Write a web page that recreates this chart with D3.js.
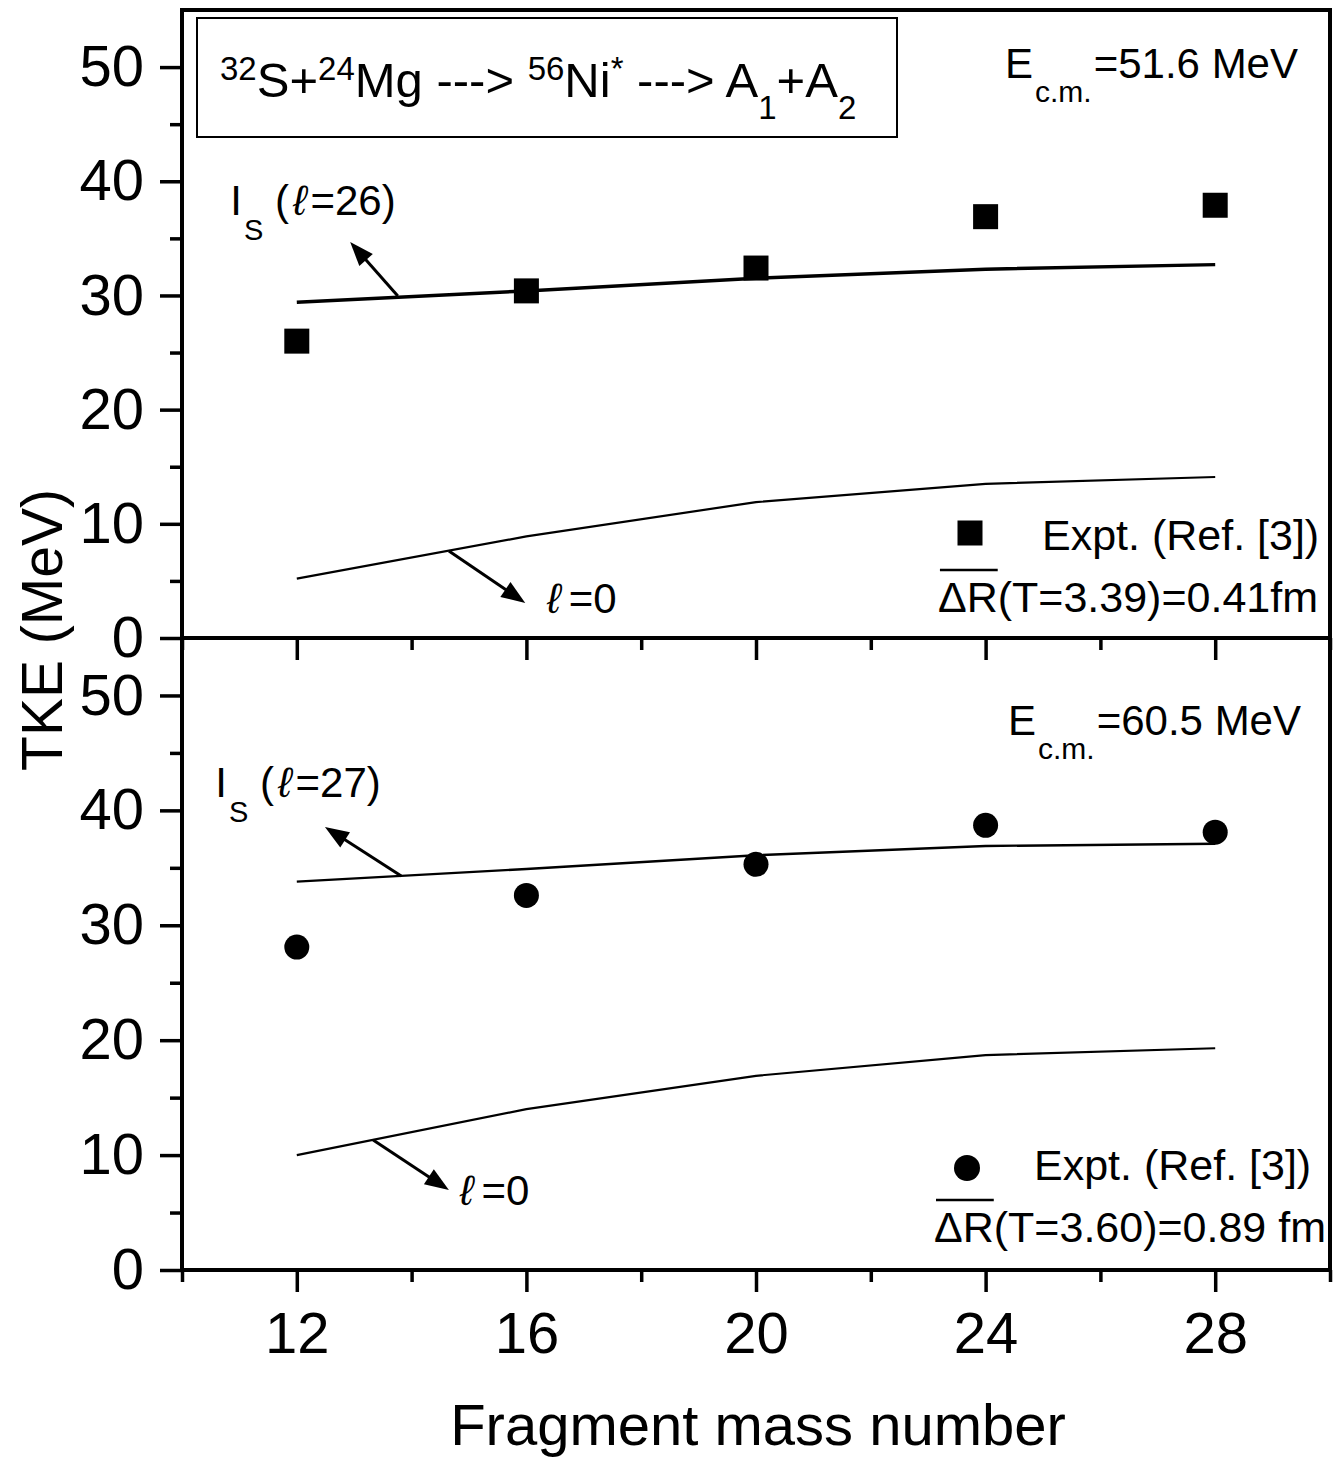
<!DOCTYPE html>
<html><head><meta charset="utf-8">
<script src="https://cdn.jsdelivr.net/npm/d3@7"></script>
<style>
body{margin:0;background:#fff}
text{font-family:"Liberation Sans",Arial,Helvetica,sans-serif;fill:#000}
</style>
</head><body>
<svg id="c" width="1336" height="1458"></svg>
<script>
// ---------------- data ----------------
const fragmentMass = [12, 16, 20, 24, 28];
const exptTop     = [26.0, 30.4, 32.4, 36.9, 37.9];   // Ecm = 51.6 MeV
const isTop       = [29.4, 30.4, 31.5, 32.3, 32.7];   // I_S (l=26)
const l0Top       = [5.2, 8.9, 11.9, 13.5, 14.1];     // l = 0
const exptBottom  = [28.1, 32.6, 35.3, 38.7, 38.1];   // Ecm = 60.5 MeV
const isBottom    = [33.8, 34.9, 36.1, 36.9, 37.1];   // I_S (l=27)
const l0Bottom    = [10.0, 14.0, 16.9, 18.7, 19.3];   // l = 0
const yTickLabels = [0, 10, 20, 30, 40, 50];
const yMinorTicks = [5, 15, 25, 35, 45];
const xTickLabels = [12, 16, 20, 24, 28];
const xMinorTicks = [10, 14, 18, 22, 26, 30];

// ---------------- layout ----------------
const L = 182, R = 1330, T = 10, M = 638, B = 1270;
const svg = d3.select("#c");
const x = d3.scaleLinear().domain([10, 30]).range([L, R]);
const yTop = d3.scaleLinear().domain([0, 55]).range([M, T]);
const yBot = d3.scaleLinear().domain([0, 55]).range([B, M]);

function styleAxis(g, w) {
  g.select(".domain").remove();
  g.selectAll(".tick line").attr("stroke", "#000").attr("stroke-width", w);
  g.selectAll(".tick text").attr("font-size", 58).attr("fill", "#000")
    .attr("font-family", '"Liberation Sans",Arial,sans-serif');
}

[yTop, yBot].forEach(y => {
  svg.append("g").attr("transform", `translate(${L},0)`)
    .call(d3.axisLeft(y).tickValues(yTickLabels).tickSize(22).tickPadding(16).tickFormat(d3.format("d")))
    .call(g => styleAxis(g, 3.5));
  svg.append("g").attr("transform", `translate(${L},0)`)
    .call(d3.axisLeft(y).tickValues(yMinorTicks).tickSize(12).tickFormat(""))
    .call(g => styleAxis(g, 3.5));
});

// x axes: top panel (ticks only) and bottom panel (with labels)
svg.append("g").attr("transform", `translate(0,${M})`)
  .call(d3.axisBottom(x).tickValues(xTickLabels).tickSize(22).tickFormat(""))
  .call(g => styleAxis(g, 3.5));
svg.append("g").attr("transform", `translate(0,${M})`)
  .call(d3.axisBottom(x).tickValues(xMinorTicks).tickSize(12).tickFormat(""))
  .call(g => styleAxis(g, 3.5));
svg.append("g").attr("transform", `translate(0,${B})`)
  .call(d3.axisBottom(x).tickValues(xTickLabels).tickSize(22).tickPadding(20).tickFormat(d3.format("d")))
  .call(g => styleAxis(g, 3.5));
svg.append("g").attr("transform", `translate(0,${B})`)
  .call(d3.axisBottom(x).tickValues(xMinorTicks).tickSize(12).tickFormat(""))
  .call(g => styleAxis(g, 3.5));

// frame
svg.append("rect").attr("x", L).attr("y", T).attr("width", R - L).attr("height", B - T)
  .attr("fill", "none").attr("stroke", "#000").attr("stroke-width", 4);
svg.append("line").attr("x1", L).attr("x2", R).attr("y1", M).attr("y2", M)
  .attr("stroke", "#000").attr("stroke-width", 4);

// lines
function drawLine(vals, y, w) {
  const line = d3.line().x((d, i) => x(fragmentMass[i])).y(d => y(d));
  svg.append("path").attr("d", line(vals)).attr("fill", "none")
    .attr("stroke", "#000").attr("stroke-width", w).attr("stroke-linejoin", "round");
}
drawLine(isTop, yTop, 3.5);
drawLine(l0Top, yTop, 2.2);
drawLine(isBottom, yBot, 2.4);
drawLine(l0Bottom, yBot, 2.2);

// markers
svg.append("g").selectAll("rect").data(exptTop).join("rect")
  .attr("x", (d, i) => x(fragmentMass[i]) - 12.5).attr("y", d => yTop(d) - 12.5)
  .attr("width", 25).attr("height", 25).attr("fill", "#000");
svg.append("g").selectAll("circle").data(exptBottom).join("circle")
  .attr("cx", (d, i) => x(fragmentMass[i])).attr("cy", d => yBot(d))
  .attr("r", 12.5).attr("fill", "#000");

// arrows (data coordinates: from point on curve to tip)
const arrowsTop = [[[13.76, 29.95], [12.93, 34.68]], [[14.65, 7.62], [15.98, 3.07]]];
const arrowsBottom = [[[13.82, 34.29], [12.49, 38.56]], [[13.33, 11.31], [14.65, 6.96]]];
function drawArrow(a, y) {
  const x0 = x(a[0][0]), y0 = y(a[0][1]), x1 = x(a[1][0]), y1 = y(a[1][1]);
  const dx = x1 - x0, dy = y1 - y0, len = Math.hypot(dx, dy);
  const ux = dx / len, uy = dy / len, hl = 24, hw = 9;
  const bx = x1 - ux * hl, by = y1 - uy * hl;
  svg.append("line").attr("x1", x0).attr("y1", y0).attr("x2", bx + ux * 2).attr("y2", by + uy * 2)
    .attr("stroke", "#000").attr("stroke-width", 3);
  svg.append("polygon").attr("points",
    `${x1},${y1} ${bx - uy * hw},${by + ux * hw} ${bx + uy * hw},${by - ux * hw}`).attr("fill", "#000");
}
arrowsTop.forEach(a => drawArrow(a, yTop));
arrowsBottom.forEach(a => drawArrow(a, yBot));

// rich text helper: segments [text, fontSize, baselineOffset, style, dx]
function rich(px, py, segs, anchor) {
  const t = svg.append("text").attr("x", px).attr("y", py);
  if (anchor) t.attr("text-anchor", anchor);
  let cur = 0;
  segs.forEach(s => {
    const sp = t.append("tspan").attr("font-size", s[1]).attr("dy", s[2] - cur).text(s[0]);
    if (s[3]) sp.attr("font-style", s[3]);
    if (s[4]) sp.attr("dx", s[4]);
    cur = s[2];
  });
  return t;
}

// curve labels
function isLabel(px, py, n) {
  rich(px, py, [["I", 42, 0], ["S", 29, 25, null, 2], [" (", 42, 0], ["\u2113", 42, 0, "italic", 4], ["=" + n + ")", 42, 0, null, 4]]);
}
isLabel(x(10.84), yTop(37.05), 26);
isLabel(x(10.58), yBot(41.17), 27);
function l0Label(px, py) {
  rich(px, py, [["\u2113", 42, 0, "italic"], ["=0", 42, 0, null, 8]]);
}
l0Label(x(16.36), yTop(2.19));
l0Label(x(14.84), yBot(5.66));

// energy labels
function ecm(px, py, val) {
  rich(px, py, [["E", 42, 0], ["c.m.", 30, 24, null, 2], ["=" + val + " MeV", 42, 0, null, 2]]);
}
ecm(1005, 78, "51.6");
ecm(1008, 735, "60.5");

// legends
svg.append("rect").attr("x", 970 - 12.5).attr("y", 533 - 12.5).attr("width", 25).attr("height", 25).attr("fill", "#000");
svg.append("circle").attr("cx", 967).attr("cy", 1168).attr("r", 13).attr("fill", "#000");
svg.append("text").attr("x", 1042).attr("y", 550).attr("font-size", 43).text("Expt. (Ref. [3])");
svg.append("text").attr("x", 1034).attr("y", 1180).attr("font-size", 43).text("Expt. (Ref. [3])");
function dR(px, py, s) {
  const t = svg.append("text").attr("x", px).attr("y", py).attr("font-size", 43)
    .attr("text-anchor", "end").text(s);
  const n = t.node();
  const a = n.getStartPositionOfChar(0).x, b = n.getEndPositionOfChar(1).x;
  svg.append("line").attr("x1", a + 2).attr("x2", b).attr("y1", py - 42).attr("y2", py - 42)
    .attr("stroke", "#000").attr("stroke-width", 2.5);
}
dR(1318, 612, "\u0394R(T=3.39)=0.41fm");
dR(1326, 1242, "\u0394R(T=3.60)=0.89 fm");

// reaction box
svg.append("rect").attr("x", 197).attr("y", 18).attr("width", 700).attr("height", 119)
  .attr("fill", "none").attr("stroke", "#000").attr("stroke-width", 2);
rich(220, 97, [
  ["32", 33, -17], ["S+", 49, 0], ["24", 33, -17], ["Mg ---> ", 49, 0],
  ["56", 33, -17], ["Ni", 49, 0], ["*", 33, -17], [" ---> A", 49, 0],
  ["1", 33, 22], ["+A", 49, 0], ["2", 33, 22]
]);

// axis titles
svg.append("text").attr("transform", "translate(62,630) rotate(-90)")
  .attr("text-anchor", "middle").attr("font-size", 57).text("TKE (MeV)");
svg.append("text").attr("x", 758).attr("y", 1445)
  .attr("text-anchor", "middle").attr("font-size", 58).text("Fragment mass number");
</script>
</body></html>
